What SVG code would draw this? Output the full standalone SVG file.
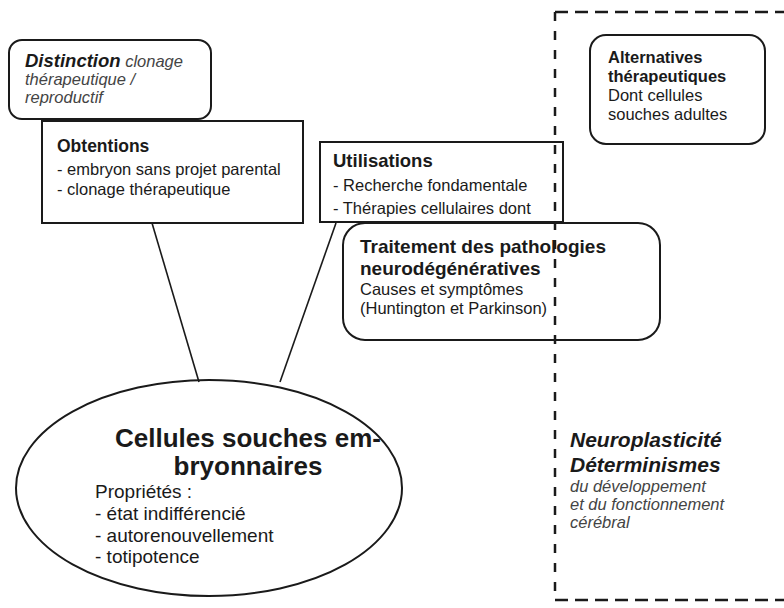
<svg xmlns="http://www.w3.org/2000/svg" width="784" height="608" viewBox="0 0 784 608">
<style>
.box{fill:none;stroke:#1a1a1a;stroke-width:2}
.t{font-family:"Liberation Sans",Arial,sans-serif;fill:#1a1a1a;font-size:16.5px}
.b{font-weight:bold}
.i{font-style:italic;fill:#444}
.conn{stroke:#1a1a1a;stroke-width:1.6;fill:none}
.dh{fill:none;stroke:#1a1a1a;stroke-width:2.5;stroke-dasharray:13 7}
.dv{fill:none;stroke:#1a1a1a;stroke-width:2.5;stroke-dasharray:9 10}
</style>
<rect width="784" height="608" fill="#fff"/>
<g id="zone-neuro">
<line class="dh" x1="555" y1="12" x2="784" y2="12"/>
<line class="dv" x1="555" y1="12" x2="555" y2="600"/>
<line class="dh" x1="555" y1="600" x2="784" y2="600"/>
<text class="t b i" style="fill:#1a1a1a;font-size:21px" x="570" y="447">Neuroplasticité</text>
<text class="t b i" style="fill:#1a1a1a;font-size:21px" x="570" y="472">Déterminismes</text>
<text class="t i" x="570" y="492">du développement</text>
<text class="t i" x="570" y="510">et du fonctionnement</text>
<text class="t i" x="570" y="528">cérébral</text>
</g>
<g id="connectors">
<line class="conn" x1="152" y1="223" x2="199" y2="382"/>
<line class="conn" x1="336" y1="223" x2="280" y2="382"/>
</g>
<g id="distinction">
<rect class="box" x="9" y="40" width="202" height="79" rx="13"/>
<text class="t" x="25" y="67"><tspan class="b i" style="fill:#1a1a1a;font-size:18.5px">Distinction</tspan><tspan class="i"> clonage</tspan></text>
<text class="t i" x="25" y="85">thérapeutique /</text>
<text class="t i" x="25" y="103">reproductif</text>
</g>
<g id="obtentions">
<rect class="box" x="42" y="121" width="261" height="102" style="fill:#fff"/>
<text class="t b" style="font-size:17.5px" x="57" y="152">Obtentions</text>
<text class="t" x="57" y="175">- embryon sans projet parental</text>
<text class="t" x="57" y="195">- clonage thérapeutique</text>
</g>
<g id="utilisations">
<rect class="box" x="320" y="142" width="243" height="80"/>
<text class="t b" style="font-size:18.5px" x="333" y="167">Utilisations</text>
<text class="t" x="333" y="191">- Recherche fondamentale</text>
<text class="t" x="333" y="214">- Thérapies cellulaires dont</text>
</g>
<g id="traitement">
<rect class="box" x="343" y="223" width="317" height="117" rx="22"/>
<text class="t b" style="font-size:19px" x="360" y="253">Traitement des pathologies</text>
<text class="t b" style="font-size:19px" x="360" y="275">neurodégénératives</text>
<text class="t" x="360" y="295">Causes et symptômes</text>
<text class="t" x="360" y="314">(Huntington et Parkinson)</text>
</g>
<g id="alternatives">
<rect class="box" x="590" y="35" width="175" height="109" rx="16"/>
<text class="t b" x="608" y="63">Alternatives</text>
<text class="t b" x="608" y="82">thérapeutiques</text>
<text class="t" x="608" y="101">Dont cellules</text>
<text class="t" x="608" y="120">souches adultes</text>
</g>
<g id="cellules">
<ellipse class="box" cx="209" cy="488" rx="193" ry="108"/>
<text class="t b" style="font-size:26px" x="248" y="447" text-anchor="middle">Cellules souches em-</text>
<text class="t b" style="font-size:26px" x="248" y="475" text-anchor="middle">bryonnaires</text>
<text class="t" style="font-size:19px" x="95" y="498">Propriétés :</text>
<text class="t" style="font-size:19px" x="95" y="520">- état indifférencié</text>
<text class="t" style="font-size:19px" x="95" y="542">- autorenouvellement</text>
<text class="t" style="font-size:19px" x="95" y="563">- totipotence</text>
</g>
</svg>
